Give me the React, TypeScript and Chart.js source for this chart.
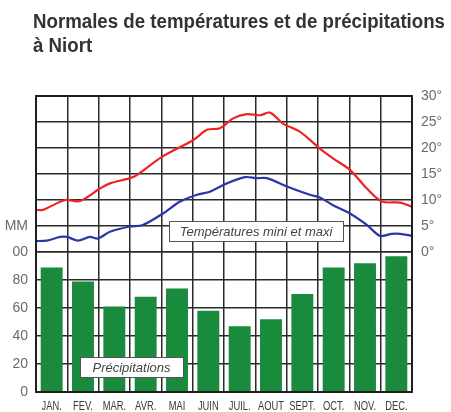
import React, { useEffect, useLayoutEffect, useRef } from "react";
import { Chart, registerables } from "chart.js";

Chart.register(...registerables);

const TITLE_LINES = ["Normales de températures et de précipitations", "à Niort"];
const MONTHS = ["JAN.", "FEV.", "MAR.", "AVR.", "MAI", "JUIN", "JUIL.", "AOUT", "SEPT.", "OCT.", "NOV.", "DEC."];
const PRECIP = [89, 79, 61, 68, 74, 58, 47, 52, 70, 89, 92, 97];

// temperature curves: position in months (0 = start of Jan, 12 = end of Dec) and value in °C
const TMAX_X = [0, 0.22, 0.93, 1.4, 2.04, 2.36, 3.0, 3.22, 4.02, 5.01, 5.46, 5.87, 6.29, 6.73, 7.15, 7.47, 7.88, 8.43, 9.06, 9.48, 10.02, 10.56, 11.04, 11.62, 12];
const TMAX = [8.1, 8.1, 10, 9.8, 12.2, 13.2, 14.2, 14.8, 18.3, 21.5, 23.5, 23.8, 25.7, 26.5, 26.3, 26.8, 24.7, 23.1, 19.9, 18, 15.8, 12.2, 9.7, 9.5, 8.7];
const TMIN_X = [0, 0.35, 0.77, 0.99, 1.34, 1.72, 1.98, 2.36, 3.0, 3.41, 4.05, 4.6, 5.14, 5.55, 6.09, 6.67, 7.05, 7.37, 8.01, 8.74, 9.06, 9.48, 10.02, 10.56, 10.98, 11.36, 11.62, 12];
const TMIN = [2.1, 2.2, 2.9, 2.9, 2.2, 2.9, 2.6, 3.9, 4.9, 5.2, 7.4, 9.7, 11, 11.6, 13.2, 14.4, 14.2, 14.2, 12.6, 11, 10.5, 9, 7.4, 5.2, 3.1, 3.5, 3.5, 3.1];

const PRECIP_TICKS = [0, 20, 40, 60, 80, 100];
const TEMP_TICKS = [0, 5, 10, 15, 20, 25, 30];
const UNIT_LABEL = "MM";
const TEMP_BOX_LABEL = "Températures mini et maxi";
const PRECIP_BOX_LABEL = "Précipitations";

// axis ranges: 100 mm aligned with 0°
const P_MAX = 211.43;
const T_MIN = -26.92;
const T_MAX = 30;
const MM_VALUE = (P_MAX * (5 - T_MIN)) / (T_MAX - T_MIN);

const FONT = "'Liberation Sans', Arial, sans-serif";
const GRID = "#2a2a2a";

const boxesPlugin = {
  id: "boxes",
  afterDatasetsDraw(chart: any) {
    const { ctx, chartArea } = chart;
    const xl = chart.scales.xl;
    const yT = chart.scales.yT;
    const yP = chart.scales.yP;
    ctx.save();
    ctx.strokeStyle = "#1e1e1e";
    ctx.lineWidth = 2;
    ctx.strokeRect(chartArea.left, chartArea.top, chartArea.right - chartArea.left, chartArea.bottom - chartArea.top);

    const drawBox = (x0: number, x1: number, y0: number, y1: number, text: string) => {
      ctx.fillStyle = "#ffffff";
      ctx.fillRect(x0, y0, x1 - x0, y1 - y0);
      ctx.strokeStyle = "#555555";
      ctx.lineWidth = 1;
      ctx.strokeRect(x0 + 0.5, y0 + 0.5, x1 - x0, y1 - y0);
      ctx.fillStyle = "#444444";
      ctx.font = `italic 13px ${FONT}`;
      ctx.textAlign = "center";
      ctx.textBaseline = "middle";
      ctx.fillText(text, (x0 + x1) / 2, (y0 + y1) / 2 + 1);
    };
    drawBox(
      Math.round(xl.getPixelForValue(4.24)),
      Math.round(xl.getPixelForValue(9.8)),
      Math.round(yT.getPixelForValue(6)),
      Math.round(yT.getPixelForValue(2.1)),
      TEMP_BOX_LABEL
    );
    drawBox(
      Math.round(xl.getPixelForValue(1.4)),
      Math.round(xl.getPixelForValue(4.7)),
      Math.round(yP.getPixelForValue(25)),
      Math.round(yP.getPixelForValue(10.7)),
      PRECIP_BOX_LABEL
    );
    ctx.restore();
  },
  afterDraw(chart: any) {
    // condensed month labels
    const { ctx, chartArea } = chart;
    const x = chart.scales.x;
    ctx.save();
    ctx.fillStyle = "#3a3a3a";
    ctx.font = `13px ${FONT}`;
    ctx.textAlign = "center";
    ctx.textBaseline = "middle";
    MONTHS.forEach((m, i) => {
      ctx.save();
      ctx.translate(x.getPixelForValue(i), chartArea.bottom + 14.5);
      ctx.scale(0.72, 1);
      ctx.fillText(m, 0, 0);
      ctx.restore();
    });
    ctx.restore();
  },
};

export default function App() {
  const ref = useRef<HTMLCanvasElement | null>(null);
  const titleRef = useRef<HTMLDivElement | null>(null);

  useLayoutEffect(() => {
    const el = titleRef.current;
    if (!el) return;
    const first = el.firstElementChild as HTMLElement | null;
    if (!first) return;
    const w = first.getBoundingClientRect().width;
    if (w > 0) el.style.transform = `scaleX(${412 / w})`;
  }, []);

  useEffect(() => {
    if (!ref.current) return;
    const chart = new Chart(ref.current, {
      type: "bar",
      data: {
        labels: MONTHS,
        datasets: [
          {
            type: "line",
            label: "max",
            data: TMAX_X.map((x, i) => ({ x, y: TMAX[i] })),
            xAxisID: "xl",
            yAxisID: "yT",
            borderColor: "#ee2424",
            borderWidth: 2.2,
            pointRadius: 0,
            tension: 0.3,
          } as any,
          {
            type: "line",
            label: "min",
            data: TMIN_X.map((x, i) => ({ x, y: TMIN[i] })),
            xAxisID: "xl",
            yAxisID: "yT",
            borderColor: "#2b36a8",
            borderWidth: 2.2,
            pointRadius: 0,
            tension: 0.3,
          } as any,
          {
            type: "bar",
            label: "precip",
            data: PRECIP,
            xAxisID: "x",
            yAxisID: "yP",
            backgroundColor: "#1a8a3d",
            categoryPercentage: 1,
            barPercentage: 0.7,
            grouped: false,
          } as any,
        ],
      },
      options: {
        responsive: false,
        animation: false,
        devicePixelRatio: 1,
        layout: { padding: { top: 96, left: 0, right: 0, bottom: 0 } },
        plugins: { legend: { display: false }, title: { display: false }, tooltip: { enabled: false } },
        scales: {
          x: {
            type: "category",
            position: "bottom",
            offset: true,
            grid: { offset: true, color: GRID, lineWidth: 1.5, drawTicks: false },
            border: { display: false },
            ticks: { display: false },
            afterFit: (s: any) => {
              s.height = 20;
            },
          },
          xl: { type: "linear", min: 0, max: 12, offset: false, display: false },
          yP: {
            type: "linear",
            position: "left",
            min: 0,
            max: P_MAX,
            afterBuildTicks: (s: any) => {
              s.ticks = [...PRECIP_TICKS, MM_VALUE].map((v) => ({ value: v }));
            },
            ticks: {
              font: { family: FONT, size: 14 },
              color: "#6a6a6a",
              padding: 8,
              callback: (v: any) => (v === 100 ? "00" : v === MM_VALUE ? UNIT_LABEL : String(v)),
            },
            grid: {
              color: (c: any) => (c.tick && c.tick.value === MM_VALUE ? "rgba(0,0,0,0)" : GRID),
              lineWidth: 1.5,
              drawTicks: false,
            },
            border: { display: false },
            afterFit: (s: any) => {
              s.width = 36;
            },
          },
          yT: {
            type: "linear",
            position: "right",
            min: T_MIN,
            max: T_MAX,
            afterBuildTicks: (s: any) => {
              s.ticks = TEMP_TICKS.map((v) => ({ value: v }));
            },
            ticks: {
              font: { family: FONT, size: 14 },
              color: "#6a6a6a",
              padding: 9,
              callback: (v: any) => `${v}°`,
            },
            grid: { color: GRID, lineWidth: 1.5, drawTicks: false },
            border: { display: false },
            afterFit: (s: any) => {
              s.width = 39;
            },
          },
        },
      },
      plugins: [boxesPlugin],
    });
    return () => chart.destroy();
  }, []);

  return (
    <div style={{ position: "absolute", left: 0, top: 0, width: 451, height: 412, background: "#fff", overflow: "hidden" }}>
      <canvas ref={ref} width={451} height={412} style={{ position: "absolute", left: 0, top: 0, display: "block" }} />
      <div
        ref={titleRef}
        style={{
          position: "absolute",
          left: 33,
          top: 9,
          fontFamily: FONT,
          fontWeight: "bold",
          fontSize: 20,
          lineHeight: "24px",
          color: "#333",
          whiteSpace: "nowrap",
          transformOrigin: "0 0",
        }}
      >
        {TITLE_LINES.map((t, i) => (
          <div key={i} style={{ display: "table" }}>
            {t}
          </div>
        ))}
      </div>
    </div>
  );
}
